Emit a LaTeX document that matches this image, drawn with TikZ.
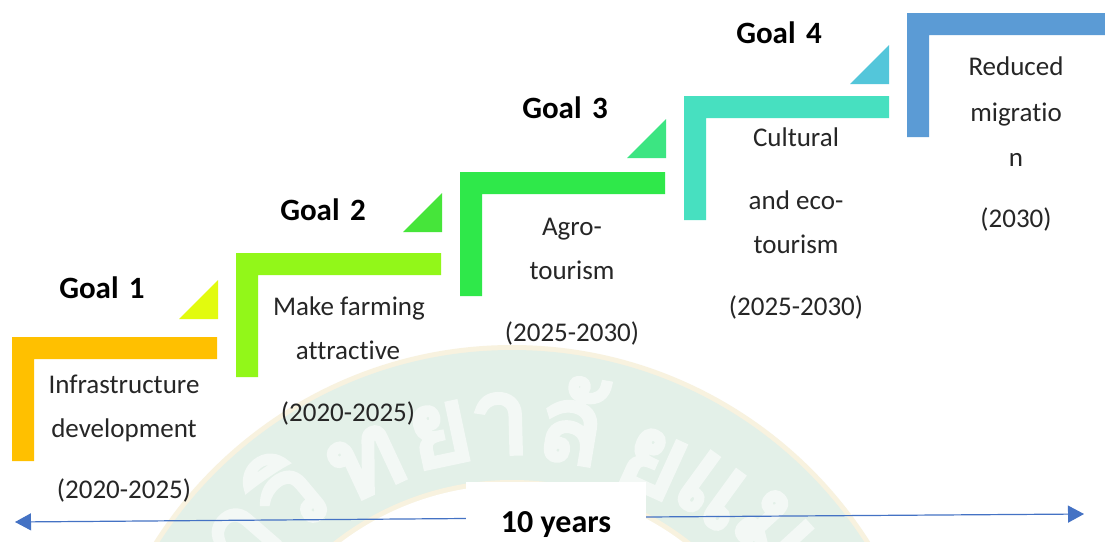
\documentclass[tikz,border=0pt]{standalone}
\usepackage{fontspec}
\usetikzlibrary{arrows.meta}
\setmainfont[Ligatures=NoCommon]{Carlito}
\newfontfamily\thaimark[Script=Thai,FakeBold=5]{Loma}
\definecolor{ringgreen}{HTML}{E3F0E8}
\definecolor{ringgold}{HTML}{F8F2DF}
\definecolor{markwhite}{HTML}{F3F8F5}
\definecolor{inkdark}{HTML}{262626}
\definecolor{arrowblue}{HTML}{4472C4}
\definecolor{barA}{HTML}{FFC000}
\definecolor{barB}{HTML}{92F719}
\definecolor{barC}{HTML}{2FE84A}
\definecolor{barD}{HTML}{47E0C0}
\definecolor{barE}{HTML}{5B9BD5}
\definecolor{triA}{HTML}{E2FB0E}
\definecolor{triB}{HTML}{46E53A}
\definecolor{triC}{HTML}{3CE582}
\definecolor{triD}{HTML}{53C6DA}
\tikzset{
  x=1pt,y=-1pt,
  body/.style={font=\fontsize{27}{27}\selectfont,text=inkdark,inner sep=0pt,anchor=center,text height=17pt,text depth=0pt},
  goal/.style={font=\fontsize{31}{31}\bfseries\selectfont,text=black,inner sep=0pt,anchor=center,text height=20pt,text depth=0pt},
  sealchar/.style={font=\thaimark\fontsize{105}{105}\selectfont,text=markwhite,inner sep=0pt,anchor=center},
  span/.style={draw=arrowblue,line width=1.2pt,-{Triangle[length=16pt,width=17pt]}},
  stepL/.pic={\fill[pic actions] (0,0) -- (205,0) -- (205,22) -- (22,22) -- (22,124) -- (0,124) -- cycle;},
  wedge/.pic={\fill[pic actions] (0,0) -- (39,0) -- (39,-39) -- cycle;}
}
\begin{document}
\begin{tikzpicture}
\useasboundingbox (0,0) rectangle (1105,541);
\clip (0,0) rectangle (1105,541);
\fill[white] (0,0) rectangle (1105,541);
% seal watermark
\fill[ringgold] (512,769) circle[radius=424];
\fill[ringgreen] (512,769) circle[radius=419];
\fill[ringgold] (512,769) circle[radius=289];
\fill[white] (512,769) circle[radius=284];
\begin{scope}
\clip (512,769) circle[radius=419];
\node[sealchar,rotate=49] (s0) at (243,537) {า};
\node[sealchar,rotate=40] (s1) at (285,492) {วิ};
\node[sealchar,rotate=25] (s2) at (367,463) {ท};
\node[sealchar,rotate=12] (s3) at (440,435) {ย};
\node[sealchar,rotate=1.5] (s4) at (500,424) {า};
\node[sealchar,rotate=-9.5] (s5) at (572,420) {ลั};
\node[sealchar,rotate=-24.5] (s6) at (653,463) {ย};
\node[sealchar,rotate=-36] (s7) at (713,491) {แ};
\node[sealchar,rotate=-47.5] (s8) at (773,530) {ม};
\end{scope}
% steps
\pic[fill=barA] at (12,337) {stepL};
\pic[fill=barB] at (236,253) {stepL};
\pic[fill=barC] at (460,172) {stepL};
\pic[fill=barD] at (684,96) {stepL};
\pic[fill=barE] at (907,13) {stepL};
\pic[fill=triA] at (179,319) {wedge};
\pic[fill=triB] at (403,232) {wedge};
\pic[fill=triC] at (627,158) {wedge};
\pic[fill=triD] at (850,84) {wedge};
% goals
\node[goal] (g1) at (102,288) {Goal\,\,1};
\node[goal] (g2) at (323,210) {Goal\,\,2};
\node[goal] (g3) at (565,108) {Goal\,\,3};
\node[goal] (g4) at (779,33) {Goal\,\,4};
% labels
\node[body] (a1) at (124,385) {Infrastructure};
\node[body] (a2) at (124,429) {development};
\node[body] (a3) at (124,490) {(2020-2025)};
\node[body] (b1) at (349,307) {Make farming};
\node[body] (b2) at (348,351) {attractive};
\node[body] (b3) at (348,413) {(2020-2025)};
\node[body] (c1) at (572,227) {Agro-};
\node[body] (c2) at (572,271) {tourism};
\node[body] (c3) at (572,333) {(2025-2030)};
\node[body] (d1) at (796,138) {Cultural};
\node[body] (d2) at (796,201) {and eco-};
\node[body] (d3) at (796,245) {tourism};
\node[body] (d4) at (796,307) {(2025-2030)};
\node[body] (e1) at (1016,67) {Reduced};
\node[body] (e2) at (1016,113) {migratio};
\node[body] (e3) at (1016,158) {n};
\node[body] (e4) at (1016,219) {(2030)};
% time span
\node[fill=white,minimum width=180pt,minimum height=59pt,inner sep=0pt] (ten) at (556,511.5) {};
\node[goal,font=\fontsize{32}{32}\bfseries\selectfont] (tenlabel) at (556,522) {10 years};
\coordinate (leftend) at (15,522);
\coordinate (rightend) at (1084,514);
\draw[span] ([yshift=-7pt]ten.west) -- (leftend);
\draw[span] ([yshift=-5.5pt]ten.east) -- (rightend);
\end{tikzpicture}
\end{document}
